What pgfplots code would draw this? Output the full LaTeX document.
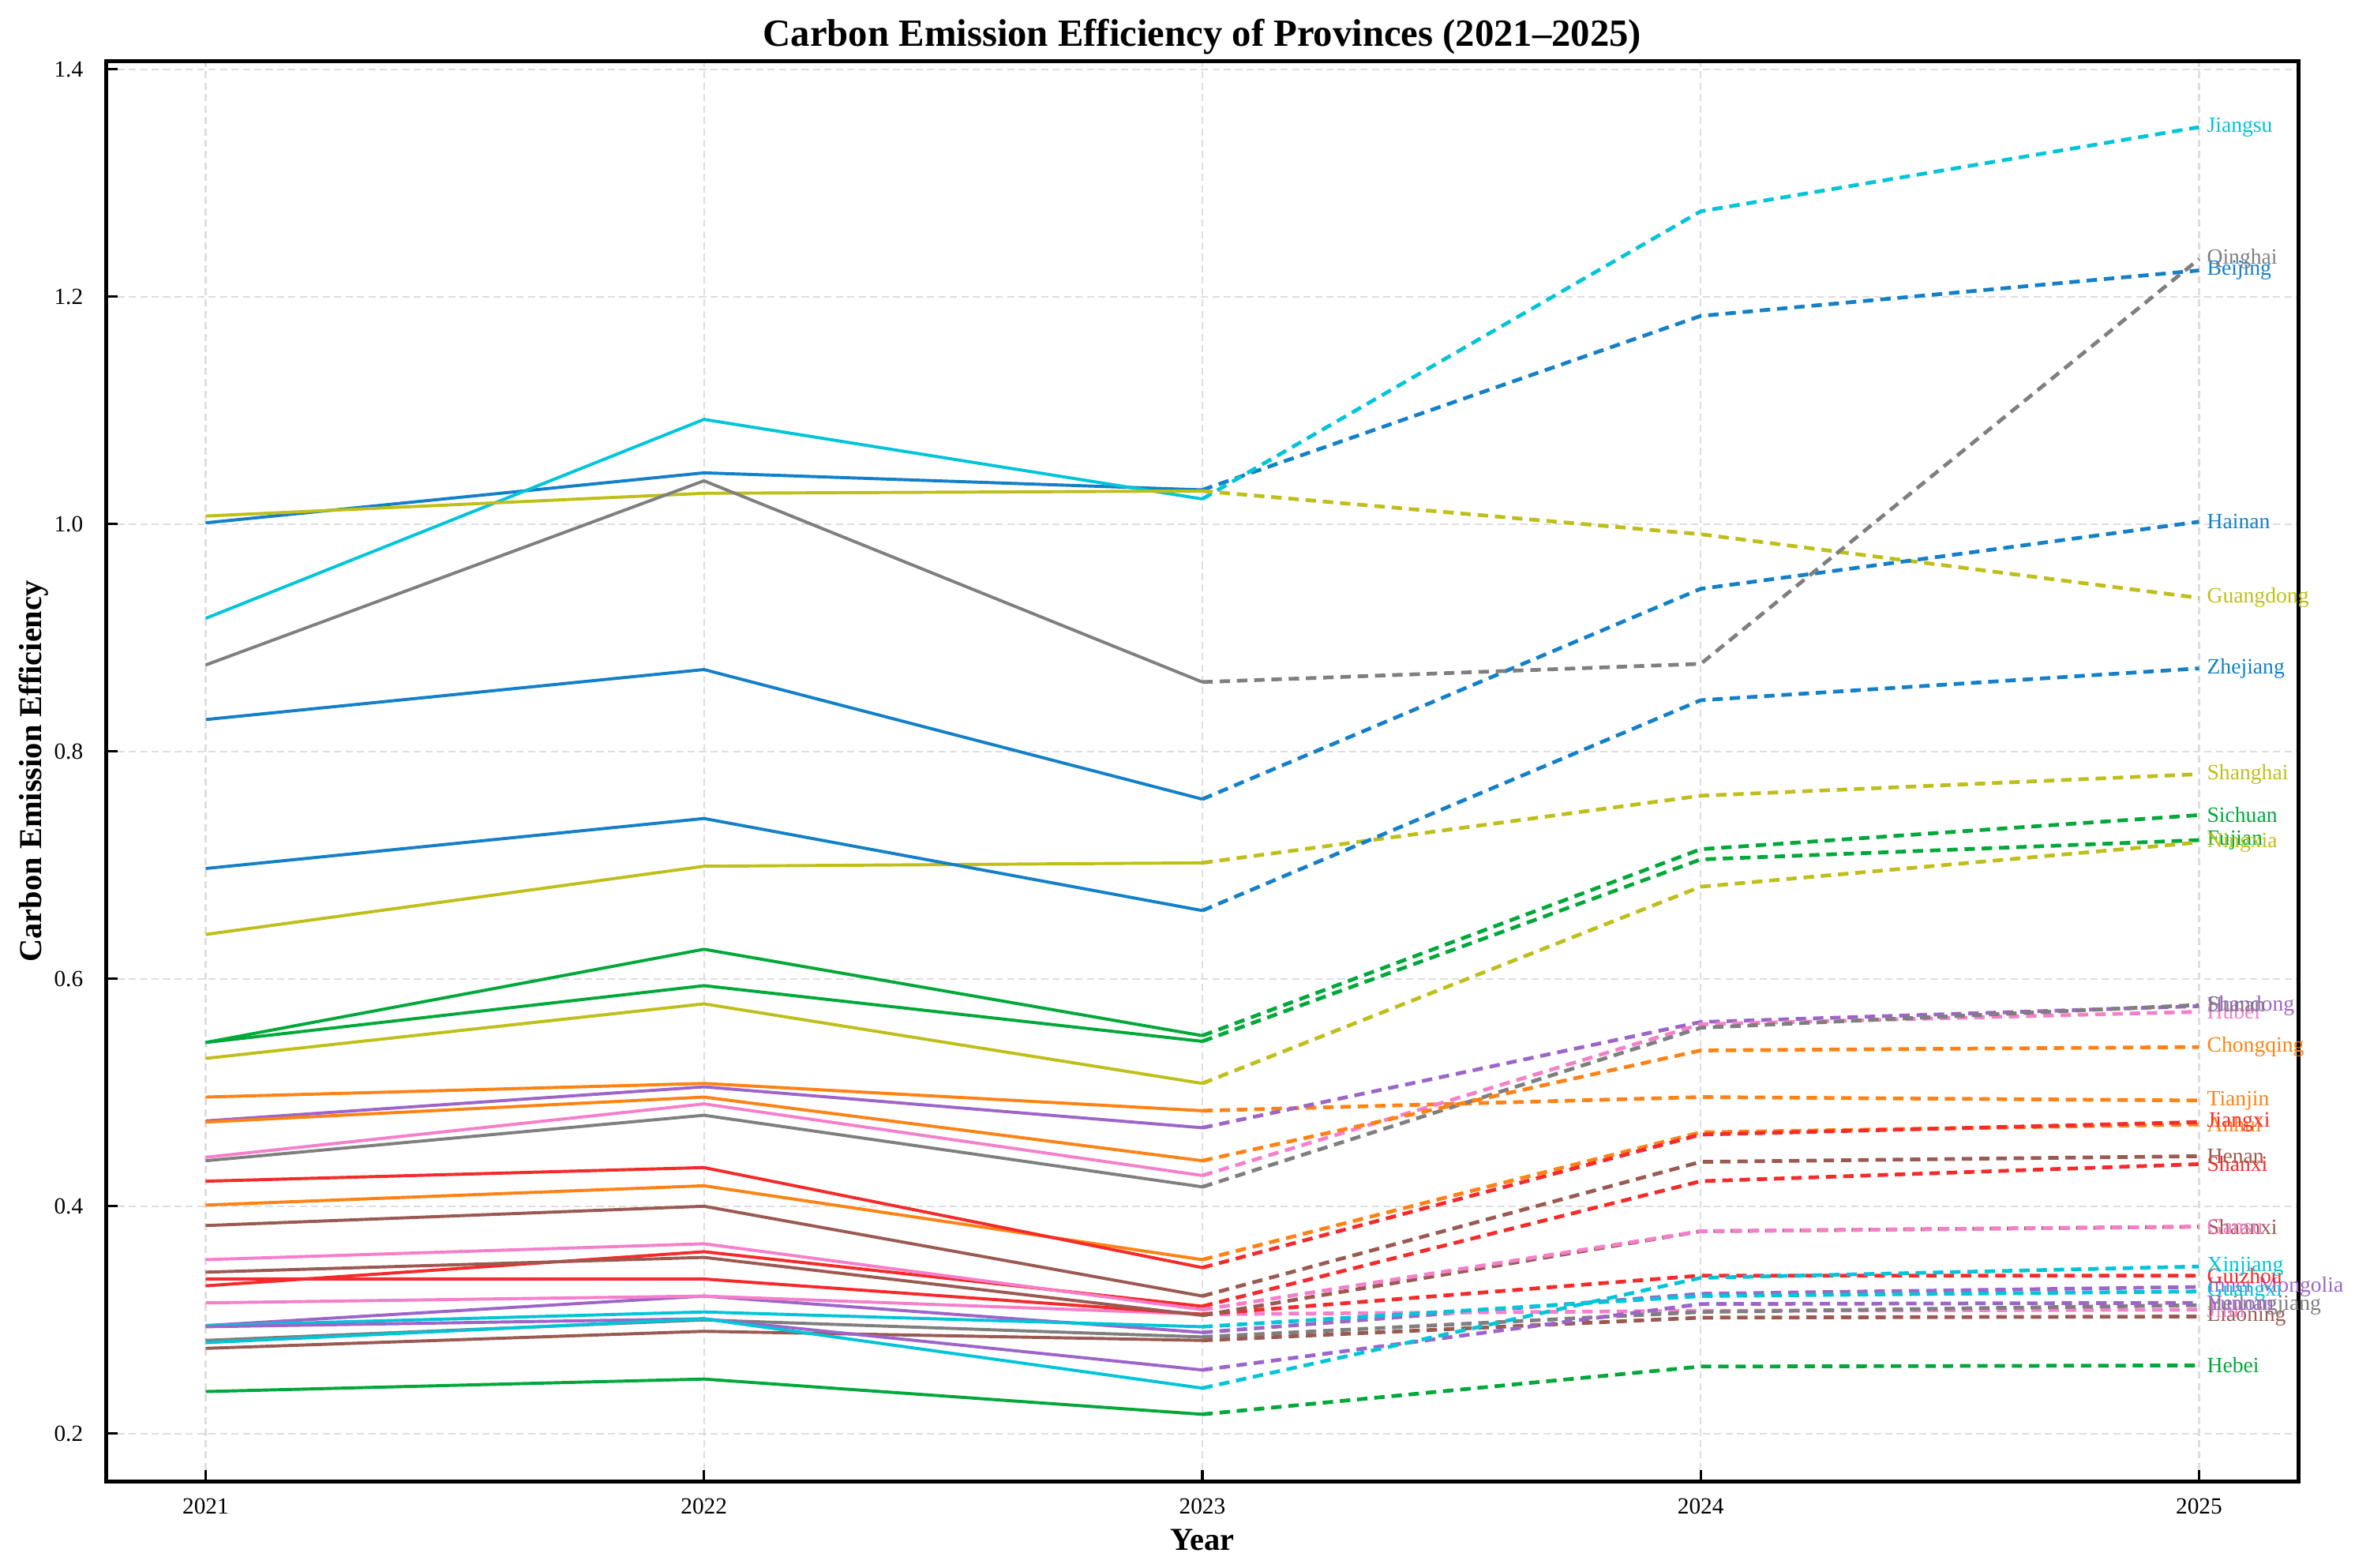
\documentclass[border=0pt]{standalone}
\usepackage{fontspec}
\setmainfont{Liberation Serif}
\usepackage{pgfplots}
\pgfplotsset{compat=1.18}

% tab10-like colours, a little brighter as in the reference
\definecolor{c0}{HTML}{1380C8}
\definecolor{c1}{HTML}{FF8214}
\definecolor{c2}{HTML}{00A83A}
\definecolor{c3}{HTML}{F52A2A}
\definecolor{c4}{HTML}{9D65C9}
\definecolor{c5}{HTML}{9A5A52}
\definecolor{c6}{HTML}{F67FCB}
\definecolor{c7}{HTML}{7F7F7F}
\definecolor{c8}{HTML}{BFBF1A}
\definecolor{c9}{HTML}{00C5D9}

\newcommand{\lbl}{\fontsize{6.7}{8}\selectfont}
% #1 colour, #2 observed 2021-2023, #3 forecast 2023-2025, #4 name
\newcommand{\prov}[4]{%
  \addplot[#1, line width=0.95pt] coordinates {#2};
  \addplot[#1, line width=1.15pt, dash pattern=on 3.2pt off 2.1pt]
    coordinates {#3}
    node[pos=1, anchor=west, xshift=1.9pt, inner sep=0pt, text=#1, font=\lbl] {#4};
}

\begin{document}
\begin{tikzpicture}
\begin{axis}[
  at={(0,0)}, anchor=south west,
  scale only axis, width=9.311in, height=6.03in,
  xmin=2020.8, xmax=2025.2, ymin=0.158, ymax=1.407,
  xtick={2021,2022,2023,2024,2025},
  xticklabels={2021,2022,2023,2024,2025},
  ytick={0.2,0.4,0.6,0.8,1.0,1.2,1.4},
  yticklabels={0.2,0.4,0.6,0.8,1.0,1.2,1.4},
  xtick pos=bottom, ytick pos=left,
  tick align=inside, major tick length=3.5pt,
  tick style={black, line width=0.8pt},
  axis line style={line width=1.1pt},
  grid=major,
  grid style={color=black!13, line width=0.5pt, dash pattern=on 2.2pt off 1.3pt},
  tick label style={font=\fontsize{7.1}{8}\selectfont},
  xticklabel style={yshift=-1.7pt},
  yticklabel style={xshift=-3.5pt},
  every axis title shift=0pt,
  title={Carbon Emission Efficiency of Provinces (2021--2025)},
  title style={at={(axis description cs:0.5,1.0104)}, anchor=base, inner sep=0pt,
    font=\bfseries\fontsize{11.8}{14}\selectfont},
  xlabel={Year},
  xlabel style={at={(axis description cs:0.5,-0.0484)}, anchor=base, inner sep=0pt,
    font=\bfseries\fontsize{9.8}{12}\selectfont},
  ylabel={Carbon Emission Efficiency},
  ylabel style={at={(axis description cs:-0.0294,0.5)}, anchor=base, inner sep=0pt,
    font=\bfseries\fontsize{9.8}{12}\selectfont},
  clip=false,
]
\prov{c0}{(2021,1.001) (2022,1.045) (2023,1.030)}{(2023,1.030) (2024,1.183) (2025,1.223)}{Beijing}
\prov{c1}{(2021,0.496) (2022,0.508) (2023,0.484)}{(2023,0.484) (2024,0.496) (2025,0.493)}{Tianjin}
\prov{c2}{(2021,0.237) (2022,0.248) (2023,0.217)}{(2023,0.217) (2024,0.259) (2025,0.260)}{Hebei}
\prov{c3}{(2021,0.330) (2022,0.360) (2023,0.312)}{(2023,0.312) (2024,0.422) (2025,0.437)}{Shanxi}
\prov{c4}{(2021,0.295) (2022,0.321) (2023,0.289)}{(2023,0.289) (2024,0.323) (2025,0.329)}{Inner Mongolia}
\prov{c5}{(2021,0.275) (2022,0.290) (2023,0.282)}{(2023,0.282) (2024,0.302) (2025,0.303)}{Liaoning}
\prov{c6}{(2021,0.315) (2022,0.321) (2023,0.305)}{(2023,0.305) (2024,0.308) (2025,0.309)}{Jilin}
\prov{c7}{(2021,0.282) (2022,0.300) (2023,0.285)}{(2023,0.285) (2024,0.307) (2025,0.313)}{Heilongjiang}
\prov{c8}{(2021,0.639) (2022,0.699) (2023,0.702)}{(2023,0.702) (2024,0.761) (2025,0.780)}{Shanghai}
\prov{c9}{(2021,0.917) (2022,1.092) (2023,1.022)}{(2023,1.022) (2024,1.275) (2025,1.349)}{Jiangsu}
\prov{c0}{(2021,0.697) (2022,0.741) (2023,0.660)}{(2023,0.660) (2024,0.845) (2025,0.873)}{Zhejiang}
\prov{c1}{(2021,0.401) (2022,0.418) (2023,0.353)}{(2023,0.353) (2024,0.465) (2025,0.472)}{Anhui}
\prov{c2}{(2021,0.544) (2022,0.594) (2023,0.545)}{(2023,0.545) (2024,0.705) (2025,0.722)}{Fujian}
\prov{c3}{(2021,0.422) (2022,0.434) (2023,0.346)}{(2023,0.346) (2024,0.463) (2025,0.474)}{Jiangxi}
\prov{c4}{(2021,0.475) (2022,0.505) (2023,0.469)}{(2023,0.469) (2024,0.562) (2025,0.576)}{Shandong}
\prov{c5}{(2021,0.383) (2022,0.400) (2023,0.321)}{(2023,0.321) (2024,0.439) (2025,0.444)}{Henan}
\prov{c6}{(2021,0.443) (2022,0.490) (2023,0.427)}{(2023,0.427) (2024,0.560) (2025,0.571)}{Hubei}
\prov{c7}{(2021,0.440) (2022,0.480) (2023,0.417)}{(2023,0.417) (2024,0.557) (2025,0.577)}{Hunan}
\prov{c8}{(2021,1.007) (2022,1.027) (2023,1.029)}{(2023,1.029) (2024,0.991) (2025,0.935)}{Guangdong}
\prov{c9}{(2021,0.295) (2022,0.307) (2023,0.294)}{(2023,0.294) (2024,0.321) (2025,0.325)}{Guangxi}
\prov{c0}{(2021,0.828) (2022,0.872) (2023,0.758)}{(2023,0.758) (2024,0.943) (2025,1.002)}{Hainan}
\prov{c1}{(2021,0.474) (2022,0.496) (2023,0.440)}{(2023,0.440) (2024,0.537) (2025,0.540)}{Chongqing}
\prov{c2}{(2021,0.544) (2022,0.626) (2023,0.550)}{(2023,0.550) (2024,0.714) (2025,0.744)}{Sichuan}
\prov{c3}{(2021,0.336) (2022,0.336) (2023,0.305)}{(2023,0.305) (2024,0.339) (2025,0.339)}{Guizhou}
\prov{c4}{(2021,0.294) (2022,0.301) (2023,0.256)}{(2023,0.256) (2024,0.314) (2025,0.315)}{Yunnan}
\prov{c5}{(2021,0.342) (2022,0.355) (2023,0.304)}{(2023,0.304) (2024,0.378) (2025,0.382)}{Shaanxi}
\prov{c6}{(2021,0.353) (2022,0.367) (2023,0.309)}{(2023,0.309) (2024,0.378) (2025,0.382)}{Gansu}
\prov{c7}{(2021,0.876) (2022,1.038) (2023,0.861)}{(2023,0.861) (2024,0.877) (2025,1.233)}{Qinghai}
\prov{c8}{(2021,0.530) (2022,0.578) (2023,0.508)}{(2023,0.508) (2024,0.681) (2025,0.720)}{Ningxia}
\prov{c9}{(2021,0.280) (2022,0.301) (2023,0.240)}{(2023,0.240) (2024,0.337) (2025,0.347)}{Xinjiang}
\end{axis}
\pgfresetboundingbox
\path[use as bounding box] (-0.450in,-0.365in) rectangle (9.550in,6.290in);
\end{tikzpicture}
\end{document}
